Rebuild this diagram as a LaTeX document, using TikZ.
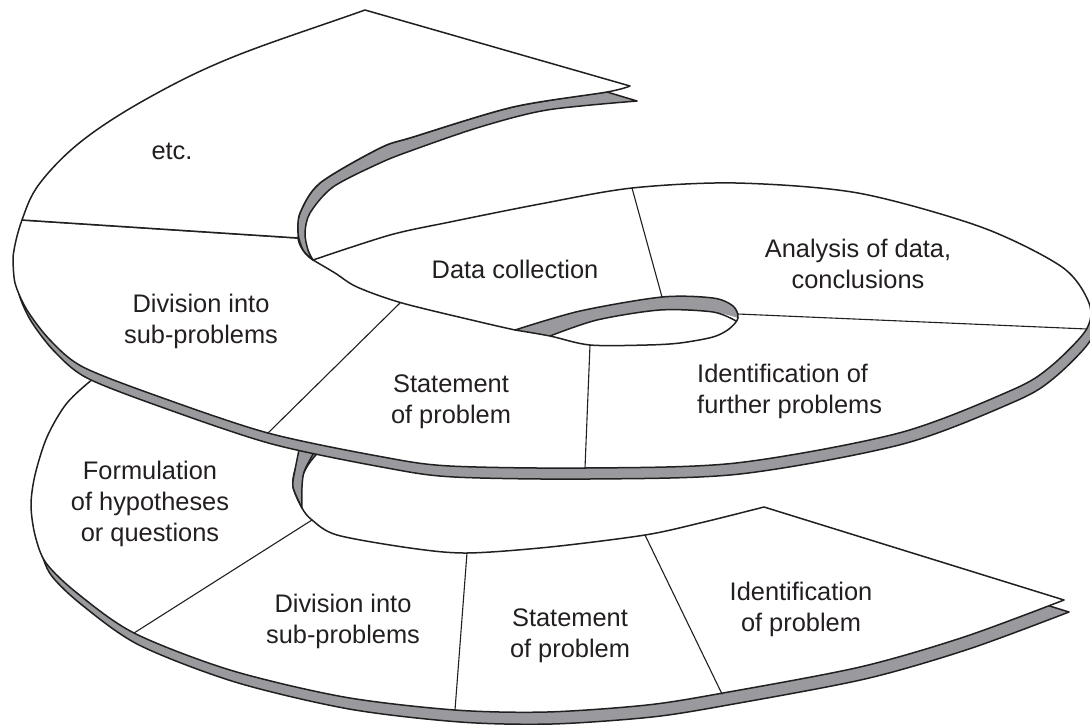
\documentclass[tikz,border=0pt]{standalone}
\usepackage{fontspec}
\setmainfont{Liberation Sans}
\definecolor{bandgray}{RGB}{153,153,158}
\definecolor{ink}{RGB}{35,31,32}
\newcommand{\shapeLone}{plot[smooth] coordinates {(130,355) (98,375) (67,403) (47,437) (35,475) (31,505) (35,535) (46,563) (77,593) (134,633) (230,670) (344,697) (455,710) (547,712) (647,705) (723,693) (860,667) (964,637) (1064,600)} -- (764,507) -- plot[smooth] coordinates {(764,507) (700,523) (645,535) (550,547) (467,553) (410,548) (337,535) (312,520) (302,508) (293,487) (295,470) (303,453) (315,438) (330,420)} -- cycle}
\newcommand{\shapeRing}{plot[smooth] coordinates {(313,260) (390,235) (450,222) (540,204) (632,188) (736,183) (858,193) (981,227) (1062,267) (1089,303) (1086,330) (1050,367) (1012,390) (899,433) (736,463) (585,468) (450,466) (383,457) (268,433) (160,397) (83,367) (50,340) (27,310) (15,283) (13,257)} .. controls (14.2,246.5) and (17.5,232.3) .. (22,220) -- (298,238) .. controls (299,246) and (305,255) .. (313,260) -- cycle}
\begin{document}
\begin{tikzpicture}[x=1pt,y=-1pt,line join=round,line cap=round,
  edge/.style={draw=ink,line width=1.5pt},
  divider/.style={draw=ink,line width=1.1pt},
  lbl/.style={text=ink,font=\fontsize{25.4}{31}\selectfont,align=center,inner sep=0pt}]
\useasboundingbox (0,0) rectangle (1090,724);
% ---------- lower turn ----------
\path[edge,fill=bandgray,shift={(5,12)}] \shapeLone;
\path[edge,fill=white] \shapeLone;
\path[edge,fill=bandgray] plot[smooth] coordinates {(300,445) (295,470) (293,487) (302,508)} -- plot[smooth] coordinates {(302,508) (302,487) (304,472) (312,456) (318,446)} -- cycle;
\path[divider] (312,520) -- (134,633);
\path[divider] (467,553) -- (455,710);
\path[divider] (645,535) -- (722,694);
% ---------- middle turn ----------
\path[edge,fill=bandgray,shift={(4,11)}] \shapeRing;
\path[edge,fill=white] \shapeRing;
% hole
\fill[white] plot[smooth] coordinates {(515,330) (580,311) (662,297) (713,298) (733,306) (738,318) (729,329) (713,337) (680,343) (647,345) (590,345) (550,336) (515,330)};
\fill[bandgray] plot[smooth] coordinates {(515,330) (580,311) (662,297) (713,298) (733,306) (738,318)} -- plot[smooth] coordinates {(738,318) (713,312) (660,310) (597,320) (550,336)} -- (515,330);
\path[edge] plot[smooth] coordinates {(515,330) (580,311) (662,297) (713,298) (733,306) (738,318) (729,329) (713,337) (680,343) (647,345) (590,345) (550,336) (515,330)};
\path[edge] plot[smooth] coordinates {(736,321) (713,312) (660,310) (597,320) (550,336)};
% boundary where the upper part overlaps data collection
\path[edge] plot[smooth] coordinates {(313,260) (335,273) (357,287) (402,303) (480,322) (515,330)};
\path[divider] (632,188) -- (662,297);
\path[divider] (738,314) -- (1087,329);
\path[divider] (590,345) -- (585,468);
\path[divider] (400,303) -- (268,433);
% ---------- top turn (etc.) ----------
\path[edge,fill=bandgray] (607,92) -- plot[smooth] coordinates {(607,92) (513,107) (413,137) (380,148) (320,183) (300,213) (298,233) (303,250) (313,260)} -- plot[smooth] coordinates {(313,260) (308,250) (305,233) (310,213) (333,187) (380,163) (413,150) (480,127) (547,110) (637,101)} -- cycle;
\path[edge,fill=white] (22,220) .. controls (26.5,207.7) and (29.8,196.3) .. (40,183)
  .. controls (50.2,169.7) and (64.7,154.3) .. (83,140)
  .. controls (101.3,125.7) and (125,110.8) .. (150,97)
  .. controls (175,83.2) and (197.2,71.5) .. (233,57)
  .. controls (268.8,42.5) and (321,25.7) .. (365,10)
  -- (630,86) -- plot[smooth] coordinates {(630,86) (607,92) (513,107) (413,137) (380,148) (320,183) (300,213) (298,233)} -- (298,238) -- cycle;
% ---------- labels ----------
\node[lbl] (etc) at (172,152.8) {\strut etc.};
\node[lbl] (data) at (515,271.8) {\strut Data collection};
\node[lbl] (divB) at (201,321.3) {\strut Division into\\\strut sub-problems};
\node[lbl] (anal) at (858,266.8) {\strut Analysis of data,\\\strut conclusions};
\node[lbl,align=left,anchor=west] (idfur) at (697,391.3) {\strut Identification of\\\strut further problems};
\node[lbl] (statB) at (451,401.3) {\strut Statement\\\strut of problem};
\node[lbl] (form) at (150,503.8) {\strut Formulation\\\strut of hypotheses\\\strut or questions};
\node[lbl] (divA) at (343,621.3) {\strut Division into\\\strut sub-problems};
\node[lbl] (statA) at (570,635.8) {\strut Statement\\\strut of problem};
\node[lbl] (idprob) at (801,609.8) {\strut Identification\\\strut of problem};
\end{tikzpicture}
\end{document}
